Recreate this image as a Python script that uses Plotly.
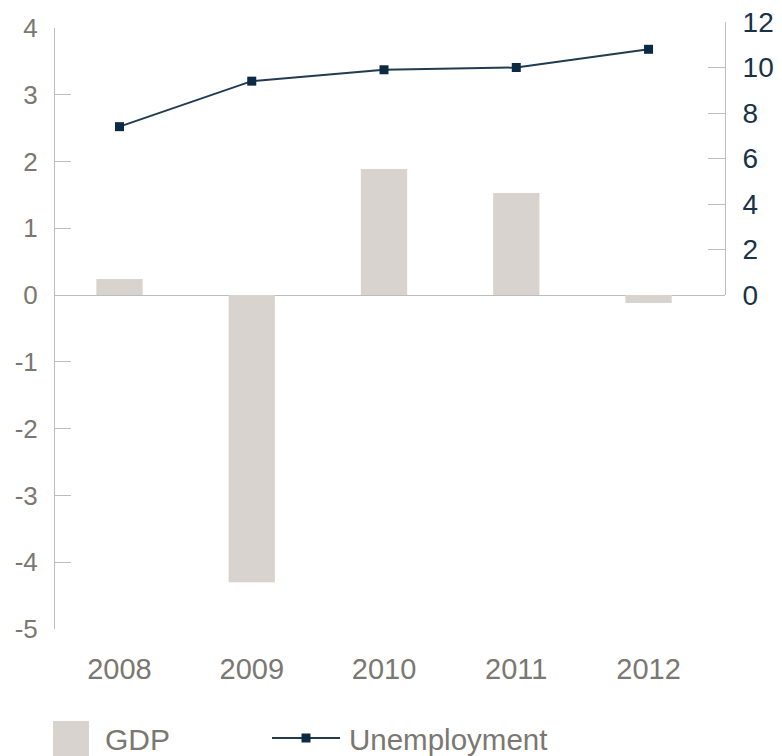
import plotly.graph_objects as go

years = ["2008", "2009", "2010", "2011", "2012"]
gdp = [0.24, -4.3, 1.89, 1.53, -0.12]
unemployment = [7.4, 9.4, 9.9, 10.0, 10.8]
left_ticks = [-5, -4, -3, -2, -1, 0, 1, 2, 3, 4]
right_ticks = [0, 2, 4, 6, 8, 10, 12]

GRAY_TXT = "#7b7771"
NAVY_TXT = "#1a3248"
AXIS = "#bdbdbd"
BAR = "#d9d3cf"
LINE = "#213b50"
MARK = "#0b2a44"
FONT = "Liberation Sans, Arial, sans-serif"

W, H = 782, 756
L, R, T, B = 55, 57, 22, 127
ph = H - T - B

fig = go.Figure()
fig.add_trace(go.Bar(x=years, y=gdp, marker=dict(color=BAR, line=dict(width=0)),
                     width=0.35, name="GDP", yaxis="y"))
fig.add_trace(go.Scatter(x=years, y=unemployment, mode="lines+markers", name="Unemployment",
                         line=dict(color=LINE, width=2),
                         marker=dict(symbol="square", size=9, color=MARK),
                         yaxis="y2"))

fig.update_layout(
    width=W, height=H,
    margin=dict(l=L, r=R, t=T, b=B, autoexpand=False),
    paper_bgcolor="white", plot_bgcolor="rgba(0,0,0,0)",
    showlegend=False,
    font=dict(family=FONT),
    xaxis=dict(type="category", range=[-0.4875, 4.578], showgrid=False, showline=False,
               ticks="", tickfont=dict(size=29, color=GRAY_TXT), ticklabelstandoff=20,
               zeroline=False, automargin=False),
    yaxis=dict(range=[-5, 4], domain=[0, (H - B - 28) / ph], tickvals=left_ticks,
               ticktext=[str(v) for v in left_ticks], automargin=False,
               showgrid=False, showline=True, linecolor=AXIS, linewidth=1,
               ticks="inside", ticklen=16, tickcolor=AXIS, tickwidth=1,
               tickfont=dict(size=26, color=GRAY_TXT), ticklabelstandoff=11,
               zeroline=True, zerolinecolor=AXIS, zerolinewidth=1),
    yaxis2=dict(range=[0, 12], domain=[(H - B - 295) / ph, 1], anchor="x", side="right",
                tickvals=right_ticks, showgrid=False, showline=True, linecolor=AXIS, linewidth=1,
                ticks="inside", ticklen=17, tickcolor=AXIS, tickwidth=1, automargin=False,
                tickfont=dict(size=28, color=NAVY_TXT), ticklabelstandoff=11,
                zeroline=False),
)

# Manual legend (pixel positions converted to paper coords)
def px(x):
    return (x - L) / (W - L - R)

def py(y):
    return (H - B - y) / ph

fig.add_shape(type="rect", xref="paper", yref="paper",
              x0=px(53), x1=px(89), y0=py(756), y1=py(721),
              fillcolor=BAR, line=dict(width=0))
fig.add_annotation(xref="paper", yref="paper", x=px(103), y=py(739), text="GDP",
                   showarrow=False, xanchor="left", yanchor="middle",
                   font=dict(size=30, color=GRAY_TXT, family=FONT))
fig.add_shape(type="line", xref="paper", yref="paper",
              x0=px(272), x1=px(340), y0=py(738), y1=py(738),
              line=dict(color=LINE, width=2))
fig.add_shape(type="rect", xref="paper", yref="paper",
              x0=px(301.5), x1=px(310.5), y0=py(742.5), y1=py(733.5),
              fillcolor=MARK, line=dict(width=0))
fig.add_annotation(xref="paper", yref="paper", x=px(347), y=py(739), text="Unemployment",
                   showarrow=False, xanchor="left", yanchor="middle",
                   font=dict(size=29.5, color=GRAY_TXT, family=FONT))

fig.write_html("out.html")
